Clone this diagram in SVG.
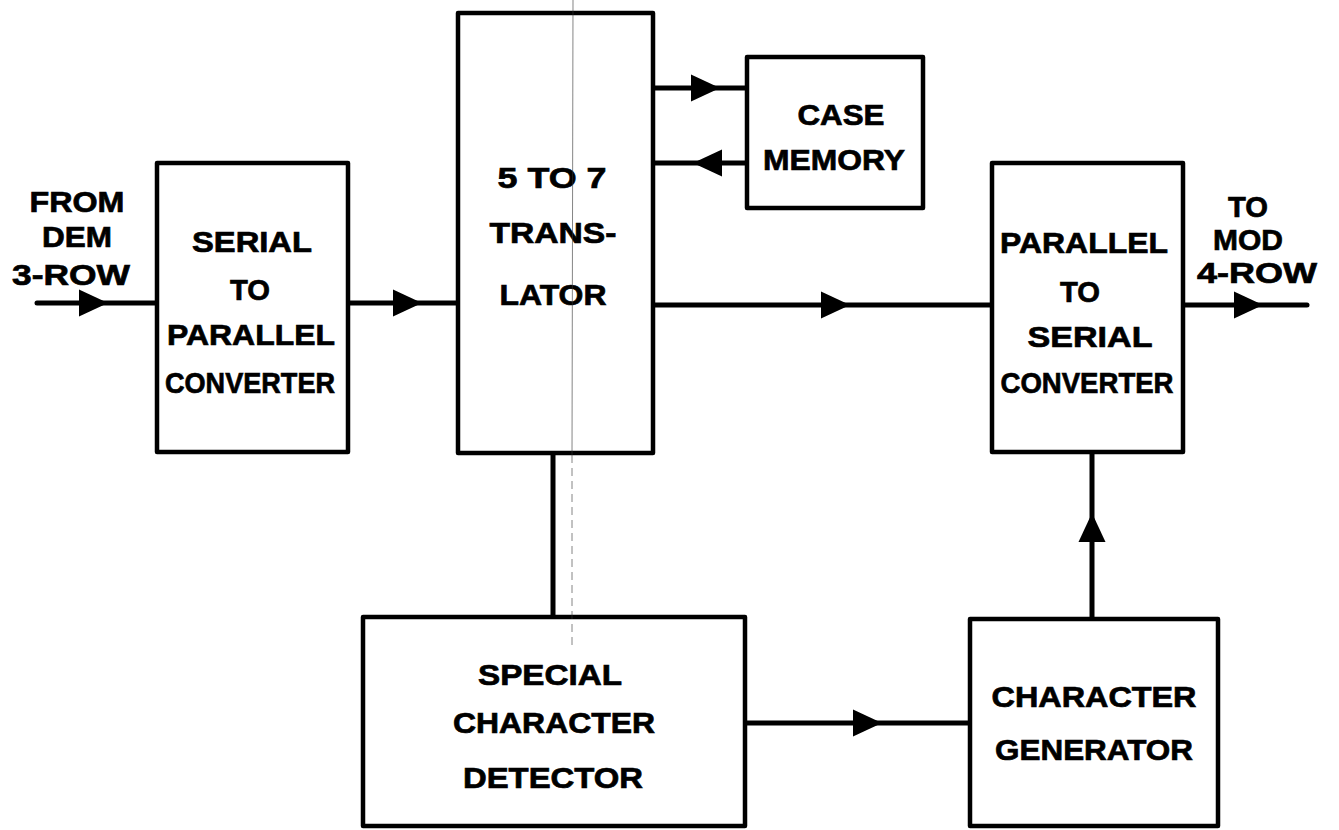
<svg xmlns="http://www.w3.org/2000/svg" xmlns:xlink="http://www.w3.org/1999/xlink" width="1339" height="830" viewBox="0 0 1339 830">
  <style>
    .box { fill: #fff; stroke: #000; stroke-width: 4.5; stroke-linejoin: round; }
    .wire { fill: none; stroke: #000; stroke-width: 5; stroke-linecap: round; }
    .lbl { font-family: "Liberation Sans", Arial, sans-serif; font-weight: bold; font-size: 30px; fill: #000; stroke: #000; stroke-width: 0.7; text-anchor: middle; }
    .fold { fill: none; stroke: #333; stroke-width: 1; opacity: 0.6; }
  </style>
  <defs>
    <path id="ah" d="M0,0 L-29,-13.5 L-29,13.5 Z" fill="#000"/>
  </defs>
  <rect width="1339" height="830" fill="#fff"/>

  <g id="connectors">
    <line class="wire" x1="37" y1="303" x2="157" y2="303"/>
    <use xlink:href="#ah" transform="translate(108,303)"/>
    <line class="wire" x1="348" y1="303" x2="458" y2="303"/>
    <use xlink:href="#ah" transform="translate(422,303)"/>
    <line class="wire" x1="653" y1="88" x2="747" y2="88"/>
    <use xlink:href="#ah" transform="translate(720,88)"/>
    <line class="wire" x1="653" y1="163" x2="747" y2="163"/>
    <use xlink:href="#ah" transform="translate(693,163) rotate(180)"/>
    <line class="wire" x1="653" y1="305" x2="992" y2="305"/>
    <use xlink:href="#ah" transform="translate(850,305)"/>
    <line class="wire" x1="1183" y1="305" x2="1307" y2="305"/>
    <use xlink:href="#ah" transform="translate(1263,305)"/>
    <line class="wire" x1="553" y1="453" x2="553" y2="617"/>
    <line class="wire" x1="745" y1="723" x2="970" y2="723"/>
    <use xlink:href="#ah" transform="translate(882,723)"/>
    <line class="wire" x1="1092" y1="452" x2="1092" y2="619"/>
    <use xlink:href="#ah" transform="translate(1092,513) rotate(-90)"/>
  </g>

  <g id="input-label">
    <text class="lbl" x="77" y="212" textLength="95" lengthAdjust="spacingAndGlyphs">FROM</text>
    <text class="lbl" x="77" y="247" textLength="70" lengthAdjust="spacingAndGlyphs">DEM</text>
    <text class="lbl" x="71" y="285" textLength="118" lengthAdjust="spacingAndGlyphs">3-ROW</text>
  </g>

  <g id="output-label">
    <text class="lbl" x="1248" y="217" textLength="40" lengthAdjust="spacingAndGlyphs">TO</text>
    <text class="lbl" x="1248" y="250" textLength="70" lengthAdjust="spacingAndGlyphs">MOD</text>
    <text class="lbl" x="1257" y="283" textLength="120" lengthAdjust="spacingAndGlyphs">4-ROW</text>
  </g>

  <g id="serial-to-parallel">
    <rect class="box" x="157" y="163" width="191" height="289"/>
    <text class="lbl" x="252" y="252" textLength="120" lengthAdjust="spacingAndGlyphs">SERIAL</text>
    <text class="lbl" x="250" y="300" textLength="40" lengthAdjust="spacingAndGlyphs">TO</text>
    <text class="lbl" x="251" y="345" textLength="168" lengthAdjust="spacingAndGlyphs">PARALLEL</text>
    <text class="lbl" x="250" y="393" textLength="170" lengthAdjust="spacingAndGlyphs">CONVERTER</text>
  </g>

  <g id="translator">
    <rect class="box" x="458" y="13" width="195" height="440"/>
    <text class="lbl" x="552" y="188" textLength="109" lengthAdjust="spacingAndGlyphs">5 TO 7</text>
    <text class="lbl" x="553" y="243" textLength="127" lengthAdjust="spacingAndGlyphs">TRANS-</text>
    <text class="lbl" x="553" y="305" textLength="107" lengthAdjust="spacingAndGlyphs">LATOR</text>
  </g>

  <g id="case-memory">
    <rect class="box" x="747" y="57" width="176" height="151"/>
    <text class="lbl" x="841" y="125" textLength="87" lengthAdjust="spacingAndGlyphs">CASE</text>
    <text class="lbl" x="834" y="170" textLength="142" lengthAdjust="spacingAndGlyphs">MEMORY</text>
  </g>

  <g id="parallel-to-serial">
    <rect class="box" x="992" y="163" width="191" height="289"/>
    <text class="lbl" x="1084" y="253" textLength="168" lengthAdjust="spacingAndGlyphs">PARALLEL</text>
    <text class="lbl" x="1080" y="302" textLength="40" lengthAdjust="spacingAndGlyphs">TO</text>
    <text class="lbl" x="1090" y="347" textLength="125" lengthAdjust="spacingAndGlyphs">SERIAL</text>
    <text class="lbl" x="1087" y="393" textLength="173" lengthAdjust="spacingAndGlyphs">CONVERTER</text>
  </g>

  <g id="special-character-detector">
    <rect class="box" x="363" y="617" width="382" height="209"/>
    <text class="lbl" x="550" y="685" textLength="144" lengthAdjust="spacingAndGlyphs">SPECIAL</text>
    <text class="lbl" x="554" y="733" textLength="202" lengthAdjust="spacingAndGlyphs">CHARACTER</text>
    <text class="lbl" x="553" y="788" textLength="180" lengthAdjust="spacingAndGlyphs">DETECTOR</text>
  </g>

  <g id="character-generator">
    <rect class="box" x="970" y="619" width="248" height="207"/>
    <text class="lbl" x="1094" y="707" textLength="205" lengthAdjust="spacingAndGlyphs">CHARACTER</text>
    <text class="lbl" x="1094" y="760" textLength="198" lengthAdjust="spacingAndGlyphs">GENERATOR</text>
  </g>

  <line class="fold" x1="573" y1="0" x2="572" y2="455"/>
  <line class="fold" x1="572" y1="455" x2="572" y2="650" stroke-dasharray="8 5"/>
</svg>
